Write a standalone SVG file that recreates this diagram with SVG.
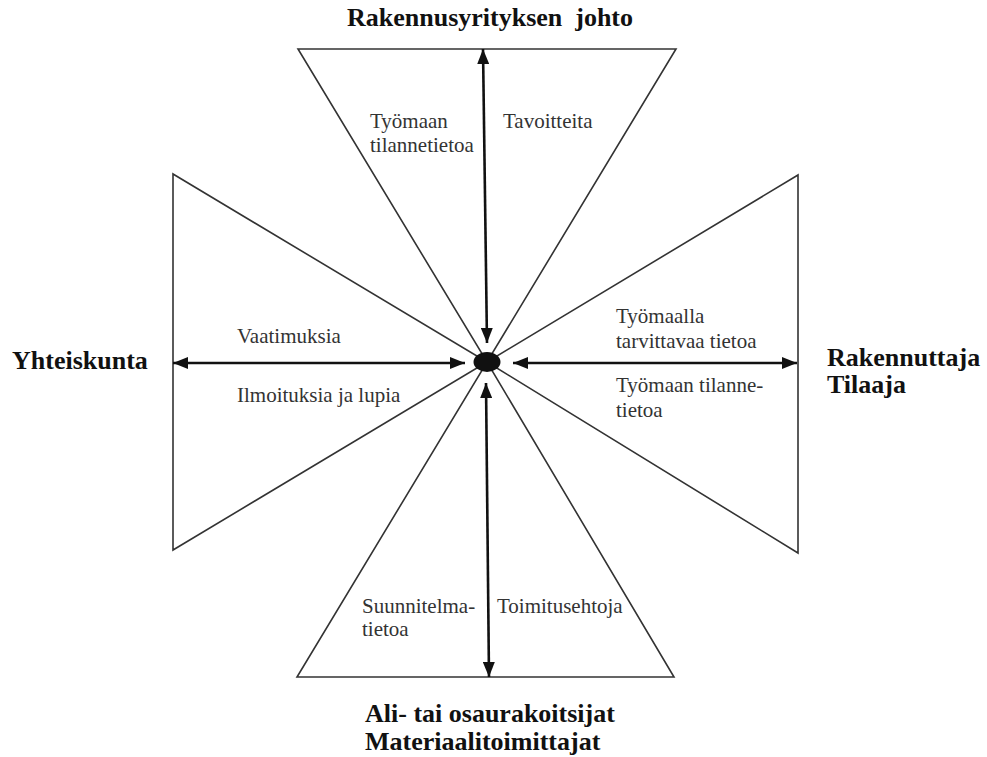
<svg xmlns="http://www.w3.org/2000/svg" width="987" height="757" viewBox="0 0 987 757">
<defs>
<marker id="ah" viewBox="0 0 15 12" refX="15" refY="6" markerWidth="15" markerHeight="12" markerUnits="userSpaceOnUse" orient="auto-start-reverse">
<path d="M0,0 L15,6 L0,12 Z" fill="#111"/>
</marker>
</defs>
<style>
.tri{fill:#fff;stroke:#333;stroke-width:1.6;stroke-linejoin:miter}
.arr{stroke:#111;stroke-width:2.6;fill:none;marker-start:url(#ah);marker-end:url(#ah)}
.lbl{font-family:"Liberation Serif","Times New Roman",serif;font-size:21px;fill:#333}
.ttl{font-family:"Liberation Serif","Times New Roman",serif;font-size:26px;font-weight:bold;fill:#111;white-space:pre}
</style>
<rect width="987" height="757" fill="#fff"/>
<g id="top">
<polygon class="tri" points="298,49 676,49 487,362"/>
<text class="ttl" x="490" y="26" text-anchor="middle" xml:space="preserve">Rakennusyrityksen  johto</text>
</g>
<g id="left">
<polygon class="tri" points="173,174 173,550 487,362"/>
<text class="ttl" x="12" y="369">Yhteiskunta</text>
</g>
<g id="right">
<polygon class="tri" points="798,175 798,553 487,362"/>
<text class="ttl" x="827" y="366">Rakennuttaja</text>
<text class="ttl" x="827" y="393">Tilaaja</text>
</g>
<g id="bottom">
<polygon class="tri" points="297,677 674,677 487,362"/>
<text class="ttl" x="365" y="722">Ali- tai osaurakoitsijat</text>
<text class="ttl" x="365" y="750">Materiaalitoimittajat</text>
</g>
<g id="center">
<ellipse cx="487" cy="362" rx="13.5" ry="10" fill="#111"/>
</g>
<g id="connectors">
<line class="arr" x1="487" y1="343" x2="483" y2="49"/>
<line class="arr" x1="465" y1="363" x2="173" y2="363"/>
<line class="arr" x1="513" y1="363" x2="797" y2="363"/>
<line class="arr" x1="486" y1="383" x2="489" y2="677"/>
</g>
<g id="labels">
<text class="lbl" x="370" y="128">Työmaan</text>
<text class="lbl" x="370" y="152">tilannetietoa</text>
<text class="lbl" x="503" y="128">Tavoitteita</text>
<text class="lbl" x="237" y="343">Vaatimuksia</text>
<text class="lbl" x="237" y="402">Ilmoituksia ja lupia</text>
<text class="lbl" x="616" y="323">Työmaalla</text>
<text class="lbl" x="616" y="348">tarvittavaa tietoa</text>
<text class="lbl" x="616" y="392">Työmaan tilanne-</text>
<text class="lbl" x="616" y="417">tietoa</text>
<text class="lbl" x="362" y="613">Suunnitelma-</text>
<text class="lbl" x="362" y="636">tietoa</text>
<text class="lbl" x="497" y="613">Toimitusehtoja</text>
</g>
</svg>
